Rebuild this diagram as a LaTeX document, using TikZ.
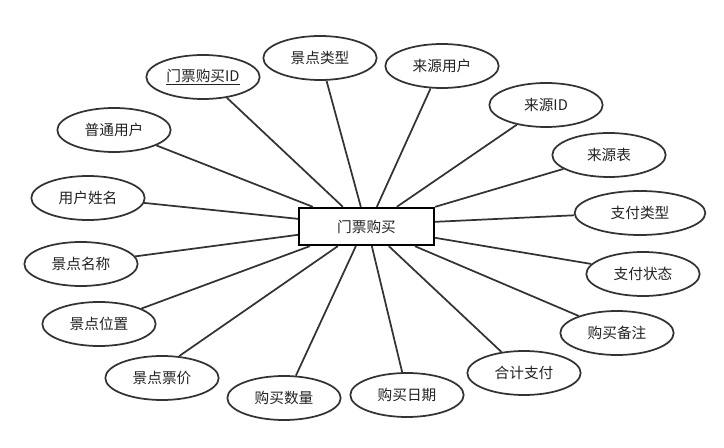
\documentclass[tikz,border=0pt]{standalone}
\usepackage{fontspec}
\setmainfont{Noto Sans CJK SC}
\usepackage{xcolor}
\usepackage{tikz}
\usetikzlibrary{shapes.geometric}

\definecolor{inkgray}{HTML}{333333}
\definecolor{textgray}{HTML}{222222}

\begin{document}
\begin{tikzpicture}[x=0.75pt, y=-0.75pt,
    every node/.style={font=\fontsize{11pt}{13pt}\selectfont, text=textgray},
    attr/.style={ellipse, draw=inkgray, line width=1.3pt, inner sep=0pt,
        minimum width=85pt, minimum height=33pt},
    ent/.style={rectangle, draw=black, line width=1.5pt, inner sep=0pt,
        minimum width=101.5pt, minimum height=28pt},
    link/.style={draw=inkgray, line width=1.3pt}]
    % Page frame
    \useasboundingbox (0, 0) rectangle (724, 448);

    % Entity
    \node[ent] (ent) at (366.5, 226.5) {门票购买};

    % Attributes, upper half
    \node[attr] (pk)    at (203, 77)  {\underline{门票购买ID}};
    \node[attr] (stype) at (320, 58)  {景点类型};
    \node[attr] (user)  at (114, 130) {普通用户};
    \node[attr] (uname) at (88, 198)  {用户姓名};
    \node[attr] (suser) at (442, 66)  {来源用户};
    \node[attr] (srcid) at (546, 105) {来源ID};
    \node[attr] (stab)  at (609, 155) {来源表};
    \node[attr, minimum width=98pt] (ptype) at (640, 213) {支付类型};

    % Attributes, lower half
    \node[attr] (pstat) at (643, 274) {支付状态};
    \node[attr] (note)  at (617, 333) {购买备注};
    \node[attr] (total) at (524, 373) {合计支付};
    \node[attr] (bdate) at (407, 395) {购买日期};
    \node[attr] (qty)   at (284, 398) {购买数量};
    \node[attr] (price) at (162, 378) {景点票价};
    \node[attr] (loc)   at (99, 324)  {景点位置};
    \node[attr] (sname) at (81, 264)  {景点名称};

    % Links to the top edge
    \draw[link] ([xshift=11.25pt]ent.north west) -- (user.-20.8);
    \draw[link] ([xshift=33.75pt]ent.north west) -- (pk.-41.5);
    \draw[link] ([xshift=47.25pt]ent.north west) -- (stype.-74);
    \draw[link] ([xshift=59.25pt]ent.north west) -- (suser.-117.5);
    \draw[link] ([xshift=74.25pt]ent.north west) -- (srcid.-146);
    \draw[link] (ent.north east) -- (stab.-163.7);

    % Links to the side edges
    \draw[link] ([yshift=-9pt]ent.north west) -- (uname.-5.9);
    \draw[link] ([yshift=-21pt]ent.north west) -- (sname.8);
    \draw[link] ([yshift=-11.25pt]ent.north east) -- (ptype.-178);
    \draw[link] ([yshift=-23.25pt]ent.north east) -- (pstat.169);

    % Links to the bottom edge
    \draw[link] ([xshift=9pt]ent.south west) -- (loc.20);
    \draw[link] ([xshift=30pt]ent.south west) -- (price.52);
    \draw[link] ([xshift=43.5pt]ent.south west) -- (qty.62);
    \draw[link] ([xshift=55.5pt]ent.south west) -- (bdate.102);
    \draw[link] ([xshift=68.25pt]ent.south west) -- (total.137);
    \draw[link] ([xshift=87.75pt]ent.south west) -- (note.156.5);
\end{tikzpicture}
\end{document}
